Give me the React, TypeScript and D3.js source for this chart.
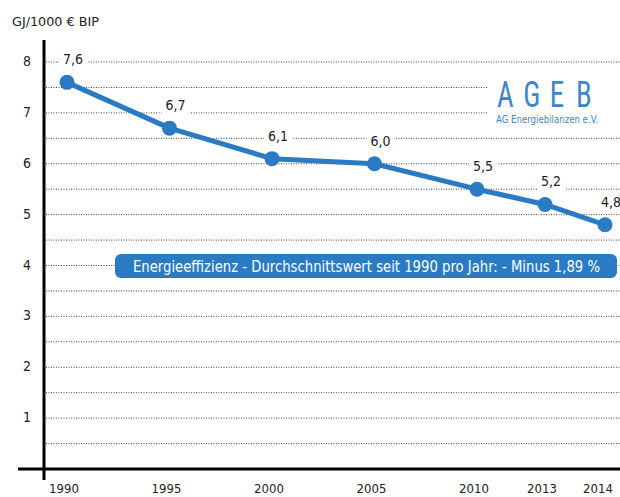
import React from 'react';
import * as d3 from 'd3';

const years = [1990, 1995, 2000, 2005, 2010, 2013, 2014];
const values = [7.6, 6.7, 6.1, 6.0, 5.5, 5.2, 4.8];
const yTicks = [1, 2, 3, 4, 5, 6, 7, 8];
const yTitle = 'GJ/1000 € BIP';
const bannerText = 'Energieeffizienz - Durchschnittswert seit 1990 pro Jahr: - Minus 1,89 %';
const logoLetters = ['A', 'G', 'E', 'B'];
const logoSub = 'AG Energiebilanzen e.V.';

const W = 620;
const H = 497;
const FONT = '"DejaVu Sans Condensed", "DejaVu Sans", sans-serif';
const BLUE = '#2a7bc4';
const LOGO = '#3a87cd';

export default function App() {
  // x is not linear in the original - later years squeezed together
  const x = d3.scaleLinear()
    .domain([1990, 2010, 2013, 2014])
    .range([67, 477, 545, 605]);
  const y = d3.scaleLinear().domain([0, 8]).range([469, 62]);

  const grid = d3.range(0.5, 8.01, 0.5);
  const line = d3.line<number>()
    .x((d, i) => x(years[i]))
    .y((d) => y(d));

  // spread the logo letters across the logo box
  const logoX = d3.scalePoint<string>().domain(logoLetters).range([497, 576]);

  return (
    <svg width={W} height={H} style={{ position: 'absolute', left: 0, top: 0, background: '#fff' }}
      fontFamily={FONT} fontStretch="condensed">
      <text x={12} y={26} fontSize={13} fill="#222" textLength={87} lengthAdjust="spacingAndGlyphs">{yTitle}</text>

      {grid.map((g) => (
        <line key={g} x1={46} x2={620} y1={y(g)} y2={y(g)}
          stroke="#444" strokeWidth={1} strokeDasharray="1,1.5" />
      ))}
      {yTicks.map((t) => (
        <text key={t} x={27} y={y(t) + 4} fontSize={14} fill="#222" textAnchor="middle">{t}</text>
      ))}

      <line x1={44} x2={44} y1={40} y2={480} stroke="#000" strokeWidth={3} />
      <line x1={18} x2={620} y1={469} y2={469} stroke="#000" strokeWidth={3} />

      {years.map((yr) => (
        <text key={yr} x={Math.min(x(yr) - 3, 598)} y={493} fontSize={13} fill="#222" textAnchor="middle">{yr}</text>
      ))}

      <path d={line(values) ?? ''} fill="none" stroke={BLUE} strokeWidth={5} strokeLinejoin="round" />
      {values.map((v, i) => (
        <circle key={i} cx={x(years[i])} cy={y(v)} r={7.5} fill={BLUE} />
      ))}

      {values.map((v, i) => {
        const cx = x(years[i]) + 6;
        const cy = y(v) - 18;
        return (
          <g key={i}>
            <rect x={cx - 14} y={cy - 13} width={28} height={17} fill="#fff" />
            <text x={cx} y={cy} fontSize={14} fill="#222" textAnchor="middle">
              {d3.format('.1f')(v).replace('.', ',')}
            </text>
          </g>
        );
      })}

      {/* logo sits on a white patch that hides the grid */}
      <g>
        <rect x={487} y={76} width={133} height={52} fill="#fff" />
        {logoLetters.map((l) => (
          <text key={l} transform={`translate(${logoX(l)},107) scale(0.78,1)`}
            fontFamily="Roboto, sans-serif" fontWeight={400} fontSize={37} fill={LOGO}>{l}</text>
        ))}
        <text x={496} y={123} fontSize={11} fill={LOGO} textLength={102} lengthAdjust="spacingAndGlyphs">{logoSub}</text>
      </g>

      <rect x={115} y={254} width={502} height={24} rx={6} fill={BLUE} />
      <text x={133} y={271.5} fontSize={15} fill="#fff" textLength={467} lengthAdjust="spacingAndGlyphs">{bannerText}</text>
    </svg>
  );
}
